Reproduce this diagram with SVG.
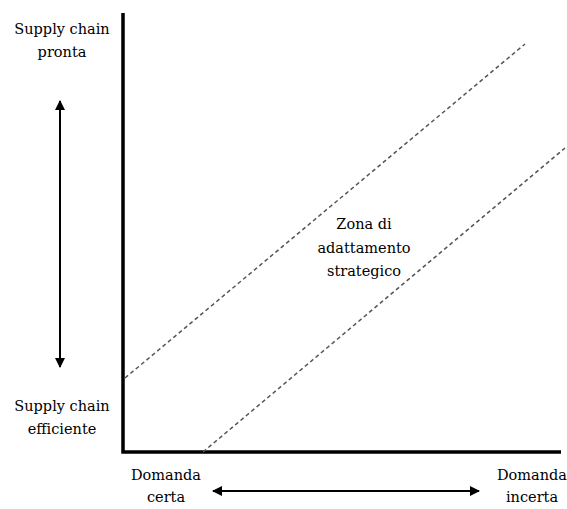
<svg xmlns="http://www.w3.org/2000/svg" width="567" height="509" viewBox="0 0 567 509">
<style>
text{font-family:'DejaVu Serif','Liberation Serif','Times New Roman',serif;font-size:14.5px;fill:#000;text-anchor:middle}
.axis{stroke:#000;stroke-width:3.5;fill:none}
.dash{stroke:#555;stroke-width:1.5;stroke-dasharray:4 3;fill:none}
.arr{stroke:#000;stroke-width:2;fill:none}
</style>
<defs>
<marker id="ah" viewBox="0 0 10 10" refX="9" refY="5" markerWidth="5" markerHeight="5" orient="auto-start-reverse" markerUnits="strokeWidth">
<path d="M0,0 L10,5 L0,10 z" fill="#000"/>
</marker>
</defs>
<g id="axes">
<polyline class="axis" points="123,13 123,452 561,452"/>
</g>
<g id="connectors">
<line class="dash" x1="125" y1="378" x2="525" y2="44"/>
<line class="dash" x1="203" y1="452" x2="565" y2="148"/>
<line class="arr" x1="60" y1="101" x2="60" y2="367" marker-start="url(#ah)" marker-end="url(#ah)"/>
<line class="arr" x1="213" y1="491" x2="479" y2="491" marker-start="url(#ah)" marker-end="url(#ah)"/>
</g>
<g id="label-pronta">
<text x="62" y="34">Supply chain</text>
<text x="62" y="57">pronta</text>
</g>
<g id="label-efficiente">
<text x="62" y="411">Supply chain</text>
<text x="62" y="434">efficiente</text>
</g>
<g id="label-certa">
<text x="166" y="480">Domanda</text>
<text x="166" y="502">certa</text>
</g>
<g id="label-incerta">
<text x="532" y="480">Domanda</text>
<text x="532" y="502">incerta</text>
</g>
<g id="label-zona">
<text x="364" y="229">Zona di</text>
<text x="364" y="253">adattamento</text>
<text x="364" y="276">strategico</text>
</g>
</svg>
